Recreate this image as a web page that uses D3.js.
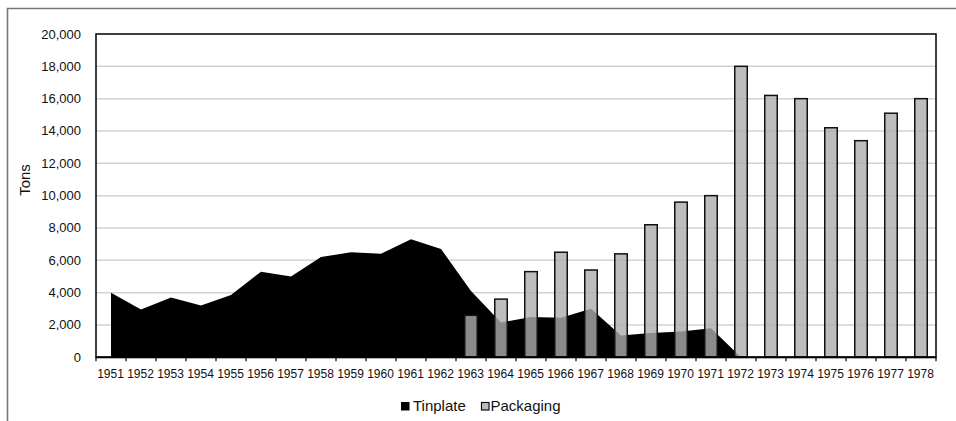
<!DOCTYPE html>
<html>
<head>
<meta charset="utf-8">
<script src="https://cdn.jsdelivr.net/npm/d3@7"></script>
<style>
  body { margin: 0; background: #fff; }
  svg { display: block; font-family: "Liberation Sans", Arial, sans-serif; }
</style>
</head>
<body>
<div id="chart"></div>
<script>
// years on the x axis
var years = d3.range(1951, 1979).map(String);

// tinplate area, 1951..1972 (drops to zero in 1972)
var tinYears = d3.range(1951, 1973).map(String);
var tinplate = [4000, 2950, 3700, 3200, 3850, 5300, 5000, 6200, 6500, 6400,
                7300, 6700, 4100, 2150, 2500, 2450, 3000, 1350, 1500, 1600, 1800, 0];

// packaging bars, 1963..1978
var packYears = d3.range(1963, 1979).map(String);
var packaging = [2600, 3600, 5300, 6500, 5400, 6400, 8200, 9600, 10000,
                 18000, 16200, 16000, 14200, 13400, 15100, 16000];

var yTicks = d3.range(0, 20001, 2000);

var W = 956, H = 421;
// plot box (note: "top" is taken by window.top, so prefix these)
var pLeft = 96, pRight = 936, pTop = 34, pBottom = 357.3;

var svg = d3.select('#chart').append('svg')
    .attr('width', W)
    .attr('height', H);

// outer frame (clipped at right and bottom like the original)
svg.append('path')
    .attr('d', 'M7.5,' + H + 'V8.5H' + W)
    .attr('fill', 'none')
    .attr('stroke', '#777')
    .attr('stroke-width', 1.6);

var x = d3.scaleBand().domain(years).range([pLeft, pRight]).padding(0);
var y = d3.scaleLinear().domain([0, 20000]).range([pBottom, pTop]);
var cx = function(d) { return x(d) + x.bandwidth() / 2; };

// gridlines
svg.append('g')
    .selectAll('line')
    .data(yTicks.filter(function(d) { return d > 0 && d < 20000; }))
    .enter().append('line')
    .attr('x1', pLeft).attr('x2', pRight)
    .attr('y1', function(d) { return y(d); })
    .attr('y2', function(d) { return y(d); })
    .attr('stroke', '#d2d2d2')
    .attr('stroke-width', 1.5);

// tinplate area
var area = d3.area()
    .x(function(d, i) { return cx(tinYears[i]); })
    .y0(y(0))
    .y1(function(d) { return y(d); });

svg.append('path')
    .datum(tinplate)
    .attr('d', area)
    .attr('fill', '#000');

// packaging bars
var bw = 12.5;
svg.append('g')
    .selectAll('rect')
    .data(packaging)
    .enter().append('rect')
    .attr('x', function(d, i) { return cx(packYears[i]) - bw / 2; })
    .attr('y', function(d) { return y(d); })
    .attr('width', bw)
    .attr('height', function(d) { return y(0) - y(d); })
    .attr('fill', 'rgb(172,172,172)')
    .attr('fill-opacity', 0.8)
    .attr('stroke', '#111')
    .attr('stroke-width', 1.5);

// plot frame
svg.append('rect')
    .attr('x', pLeft).attr('y', pTop)
    .attr('width', pRight - pLeft)
    .attr('height', pBottom - pTop)
    .attr('fill', 'none')
    .attr('stroke', '#000')
    .attr('stroke-width', 1.5);

// x axis
var xAxis = svg.append('g')
    .attr('transform', 'translate(0,' + pBottom + ')');
xAxis.append('line')
    .attr('x1', pLeft).attr('x2', pRight)
    .attr('stroke', '#000').attr('stroke-width', 2);
xAxis.selectAll('.tk')
    .data(years.concat(['end']))
    .enter().append('line')
    .attr('x1', function(d, i) { return pLeft + i * x.bandwidth(); })
    .attr('x2', function(d, i) { return pLeft + i * x.bandwidth(); })
    .attr('y1', 0).attr('y2', 4)
    .attr('stroke', '#000').attr('stroke-width', 1.2);
xAxis.selectAll('text')
    .data(years)
    .enter().append('text')
    .attr('x', function(d) { return cx(d) - 0.5; })
    .attr('y', 21)
    .attr('text-anchor', 'middle')
    .attr('font-size', '12px')
    .attr('fill', '#111')
    .text(function(d) { return d; });

// y axis labels
svg.append('g')
    .selectAll('text')
    .data(yTicks)
    .enter().append('text')
    .attr('x', 81)
    .attr('y', function(d) { return y(d) + 4.5; })
    .attr('text-anchor', 'end')
    .attr('font-size', '13px')
    .attr('fill', '#111')
    .text(d3.format(','));

svg.append('text')
    .attr('transform', 'translate(30,180) rotate(-90)')
    .attr('text-anchor', 'middle')
    .attr('font-size', '15px')
    .attr('fill', '#111')
    .text('Tons');

// legend
var legend = svg.append('g');
legend.append('rect')
    .attr('x', 401).attr('y', 402)
    .attr('width', 8.5).attr('height', 8.5)
    .attr('fill', '#000');
legend.append('text')
    .attr('x', 413).attr('y', 411)
    .attr('font-size', '15px')
    .attr('fill', '#111')
    .text('Tinplate');
legend.append('rect')
    .attr('x', 481.5).attr('y', 402.5)
    .attr('width', 7.5).attr('height', 7.5)
    .attr('fill', 'rgb(172,172,172)')
    .attr('fill-opacity', 0.8)
    .attr('stroke', '#111')
    .attr('stroke-width', 1.2);
legend.append('text')
    .attr('x', 490.5).attr('y', 411)
    .attr('font-size', '15px')
    .attr('fill', '#111')
    .text('Packaging');
</script>
</body>
</html>
